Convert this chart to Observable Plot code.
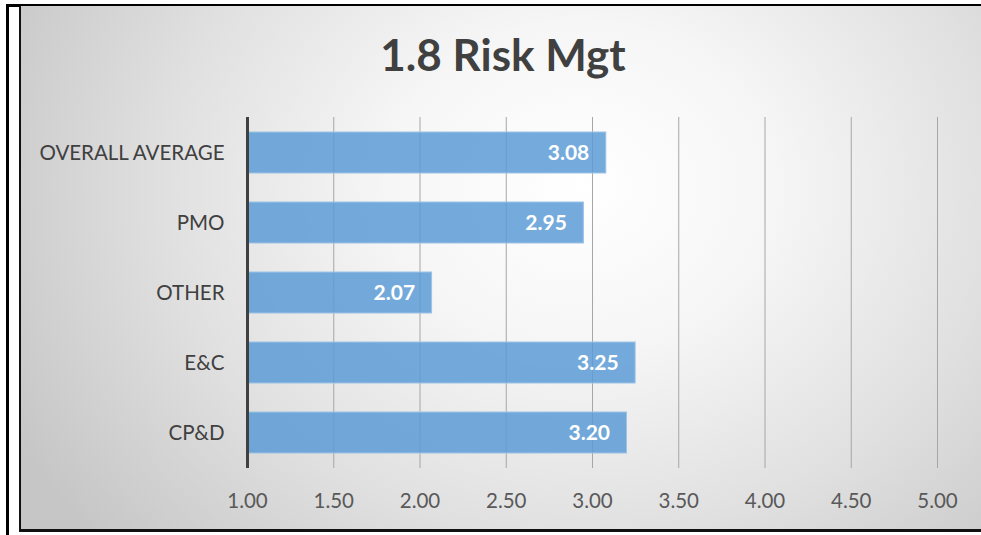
<!DOCTYPE html>
<html>
<head>
<meta charset="utf-8">
<script src="https://cdn.jsdelivr.net/npm/d3@7"></script>
<script src="https://cdn.jsdelivr.net/npm/@observablehq/plot@0.6"></script>
<style>
  html, body { margin: 0; padding: 0; background: #fff; width: 981px; height: 535px; overflow: hidden; }
  #outer { position: absolute; left: 6px; top: 4px; width: 980px; height: 540px;
           border-left: 3px solid #000; border-top: 3px solid #000; box-sizing: border-box; }
  #chart { position: absolute; left: 19px; top: 6px; width: 970px; height: 526px;
           border-left: 2px solid #111; border-bottom: 3px solid #111; box-sizing: border-box;
           background: radial-gradient(ellipse 640px 540px at 560px 180px, #ffffff 0%, #f6f6f6 30%, #e0e0e0 65%, #c6c6c6 100%);
           overflow: hidden; }
  #title { position: absolute; left: 0; top: 22px; width: 970px; height: 60px;
           font-family: Lato, "Open Sans", sans-serif; font-weight: bold; font-size: 44px; color: #404040; }
  #title span { position: absolute; left: 482px; transform: translateX(-50%); white-space: nowrap; }
  #plot { position: absolute; left: -21px; top: -6px; }
</style>
</head>
<body>
<div id="outer"></div>
<div id="chart">
  <div id="title"><span>1.8 Risk Mgt</span></div>
  <div id="plot"></div>
</div>
<script>
const categories = ["OVERALL AVERAGE", "PMO", "OTHER", "E&C", "CP&D"];
const values = [3.08, 2.95, 2.07, 3.25, 3.20];
const tickValues = [1.0, 1.5, 2.0, 2.5, 3.0, 3.5, 4.0, 4.5, 5.0];
const gridValues = [1.5, 2.0, 2.5, 3.0, 3.5, 4.0, 4.5, 5.0];

const data = categories.map((c, i) => ({category: c, value: values[i]}));

const plot = Plot.plot({
  width: 981,
  height: 535,
  marginLeft: 247,
  marginRight: 44,
  marginTop: 117,
  marginBottom: 67,
  style: { background: "transparent", fontFamily: "Lato, 'Open Sans', sans-serif" },
  x: { domain: [1, 5], label: null },
  y: { domain: categories, paddingInner: 0.42, paddingOuter: 0.21, label: null },
  marks: [
    Plot.ruleX(gridValues, { stroke: "#a6a6a6", strokeWidth: 1 }),
    Plot.barX(data, {
      x1: 1, x2: "value", y: "category",
      fill: "#5b9bd5", fillOpacity: 0.84,
      stroke: "#9cc3e6", strokeWidth: 1
    }),
    Plot.ruleX([1], { stroke: "#404040", strokeWidth: 3 }),
    Plot.text(data, {
      x: "value", y: "category", text: d => d.value.toFixed(2),
      textAnchor: "end", dx: -17, fill: "#fff", fontWeight: "bold", fontSize: 21
    }),
    Plot.axisX(tickValues, {
      tickSize: 0, tickPadding: 0, dy: 25, fontSize: 20.5, fill: "#595959",
      tickFormat: d => d.toFixed(2), anchor: "bottom", label: null
    }),
    Plot.axisY({
      tickSize: 0, tickPadding: 23, fontSize: 20.5, fill: "#404040", anchor: "left", label: null
    })
  ]
});
document.getElementById("plot").appendChild(plot);
</script>
</body>
</html>
